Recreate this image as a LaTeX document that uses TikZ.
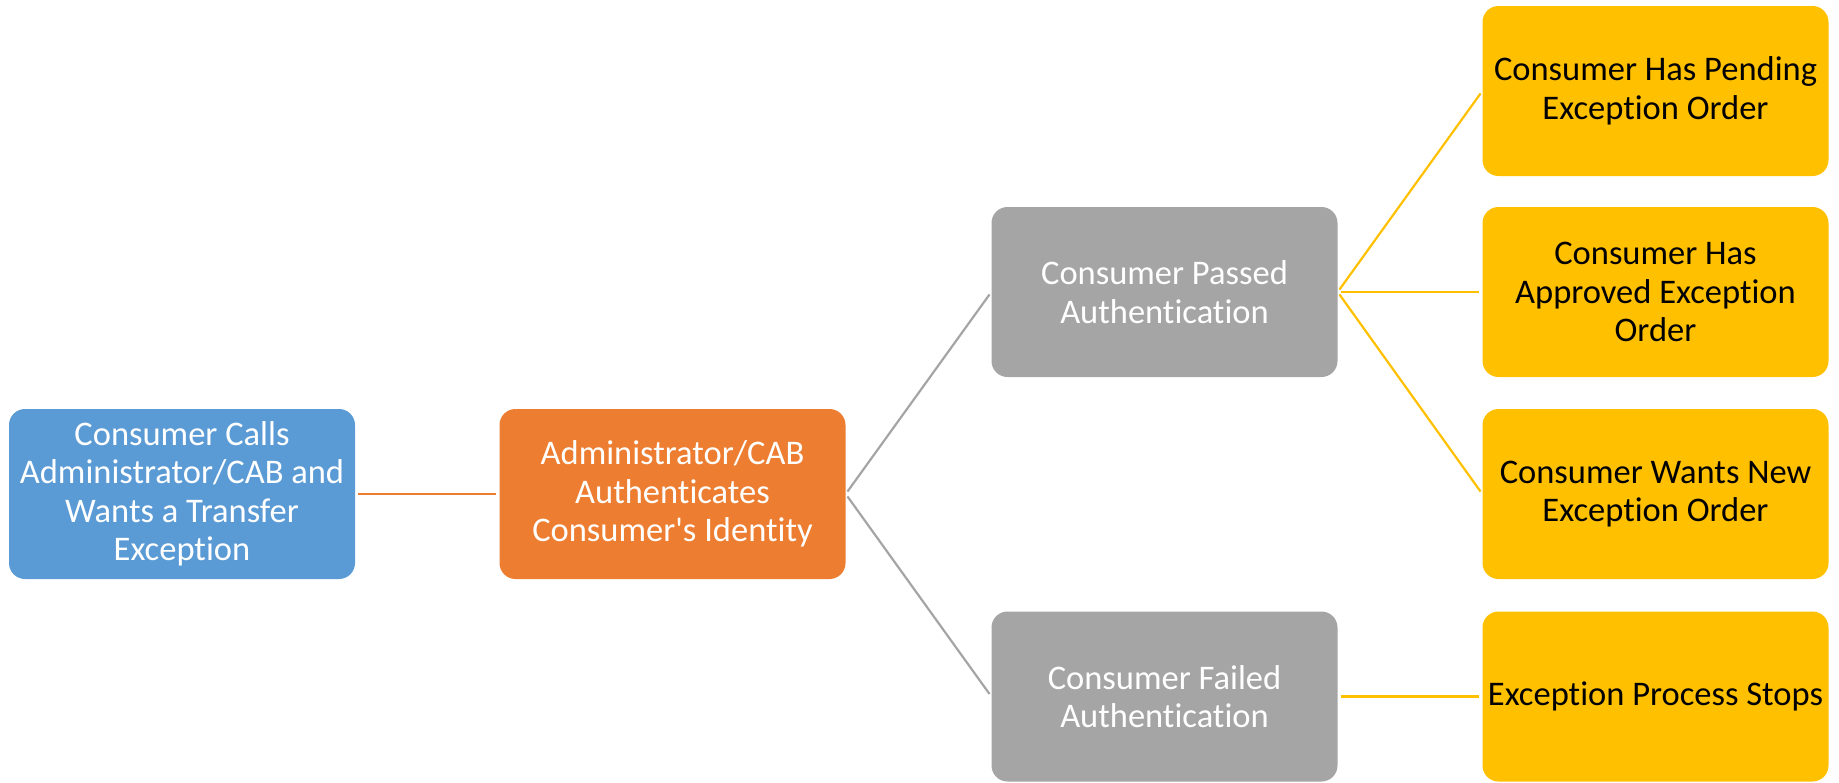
\documentclass[tikz,border=0pt]{standalone}
\usepackage{fontspec}
\setmainfont{Carlito}[Ligatures={NoCommon}]
\definecolor{cblue}{HTML}{5B9BD5}
\definecolor{corange}{HTML}{ED7D31}
\definecolor{cgray}{HTML}{A5A5A5}
\definecolor{cyellow}{HTML}{FFC000}
\begin{document}
\begin{tikzpicture}[x=1pt,y=-1pt,
  box/.style={rounded corners=16pt, minimum width=346pt, minimum height=170pt,
    align=center, inner sep=0pt, font=\fontsize{34.5}{38.5}\selectfont},
  bluebox/.style={box, fill=cblue, text=white},
  orangebox/.style={box, fill=corange, text=white},
  graybox/.style={box, fill=cgray, text=white},
  yellowbox/.style={box, fill=cyellow, text=black},
  link/.style={line width=2.2pt, shorten <=3pt, shorten >=3pt}]
\useasboundingbox (0,0) rectangle (1839,782);
\node[bluebox] (a) at (182,494) {Consumer Calls\\Administrator/CAB and\\Wants a Transfer\\Exception};
\node[orangebox] (b) at (672.5,494) {Administrator/CAB\\Authenticates\\Consumer\textquotesingle s Identity};
\node[graybox] (p) at (1164.5,292) {Consumer Passed\\Authentication};
\node[graybox] (f) at (1164.5,696.5) {Consumer Failed\\Authentication};
\node[yellowbox] (y1) at (1655.5,91) {Consumer Has Pending\\Exception Order};
\node[yellowbox] (y2) at (1655.5,292) {Consumer Has\\Approved Exception\\Order};
\node[yellowbox] (y3) at (1655.5,494) {Consumer Wants New\\Exception Order};
\node[yellowbox] (y4) at (1655.5,696.5) {Exception Process Stops};
\draw[link, corange] (a.east) -- (b.west);
\draw[link, cgray] (b.east) -- (p.west);
\draw[link, cgray] (b.east) -- (f.west);
\draw[link, cyellow] (p.east) -- (y1.west);
\draw[link, cyellow] (p.east) -- (y2.west);
\draw[link, cyellow] (p.east) -- (y3.west);
\draw[link, cyellow] (f.east) -- (y4.west);
\end{tikzpicture}
\end{document}
